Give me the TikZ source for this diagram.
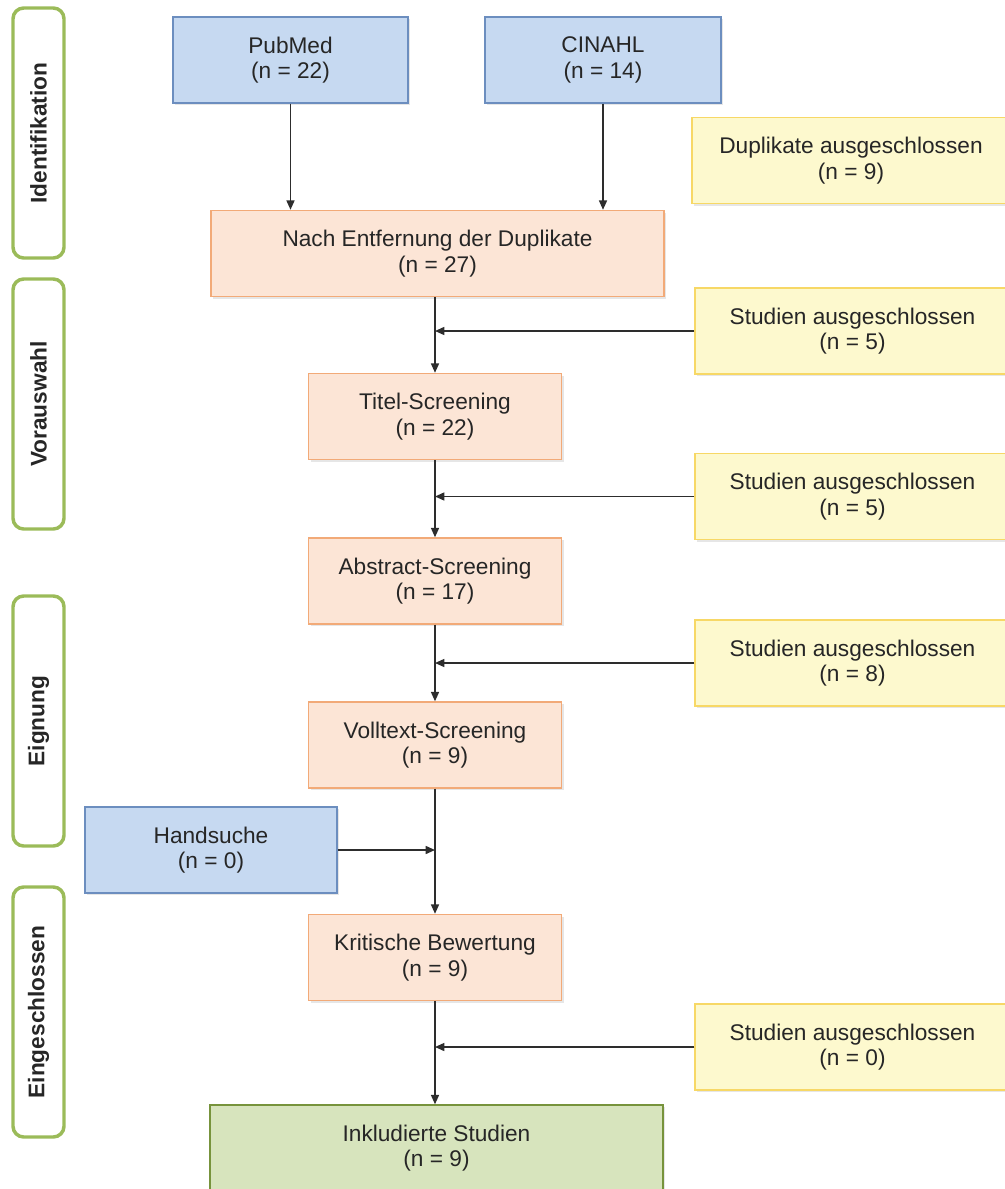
\documentclass[tikz,border=0pt]{standalone}
\usepackage{fontspec}
\setmainfont{Liberation Sans}
\usetikzlibrary{arrows.meta,shadows}
\definecolor{srcFill}{RGB}{198,217,241}
\definecolor{srcDraw}{RGB}{108,142,191}
\definecolor{stepFill}{RGB}{252,229,214}
\definecolor{stepDraw}{RGB}{242,170,120}
\definecolor{exclFill}{RGB}{253,249,206}
\definecolor{exclDraw}{RGB}{247,216,102}
\definecolor{finalFill}{RGB}{215,228,189}
\definecolor{finalDraw}{RGB}{119,147,60}
\definecolor{phaseDraw}{RGB}{155,187,89}
\definecolor{textGrey}{RGB}{38,38,38}
\definecolor{lineGrey}{RGB}{45,45,45}
\tikzset{
  box/.style={draw, line width=1.1pt, align=center, inner sep=0pt, minimum height=64.5pt,
    text=textGrey, font=\fontsize{17}{19}\selectfont,
    drop shadow={shadow xshift=1.5pt, shadow yshift=-1.5pt, opacity=0.2}},
  srcbox/.style={box, fill=srcFill, draw=srcDraw},
  stepbox/.style={box, fill=stepFill, draw=stepDraw},
  exclbox/.style={box, fill=exclFill, draw=exclDraw},
  finalbox/.style={box, fill=finalFill, draw=finalDraw},
  phase/.style={draw=phaseDraw, line width=2.6pt, rounded corners=8pt, rotate=90,
    inner sep=0pt, minimum width=187.5pt, minimum height=38.25pt,
    text=textGrey, font=\fontsize{17}{19}\selectfont\bfseries},
  arr/.style={-{Triangle[length=7pt,width=6pt]}, line width=1.1pt, draw=lineGrey},
}
\begin{document}
\begin{tikzpicture}[x=0.75pt,y=0.75pt,yscale=-1,xscale=1]
\clip (0,0) rectangle (1005,1189);
% phases
\draw (38.5,133) node [phase] (ident) {Identifikation};
\draw (38.5,404) node [phase] (vor) {Vorauswahl};
\draw (38.5,721) node [phase] (eig) {Eignung};
\draw (38.5,1012) node [phase] (ein) {Eingeschlossen};
% sources
\draw (290.5,60) node [srcbox, minimum width=176.25pt] (pubmed) {PubMed\\(n = 22)};
\draw (603,60) node [srcbox, minimum width=177pt] (cinahl) {CINAHL\\(n = 14)};
\draw (211,850) node [srcbox, minimum width=189pt] (hand) {Handsuche\\(n = 0)};
% screening steps
\draw (437.5,253.5) node [stepbox, minimum width=339.75pt] (nach) {Nach Entfernung der Duplikate\\(n = 27)};
\draw (435,416.5) node [stepbox, minimum width=189.75pt] (titel) {Titel-Screening\\(n = 22)};
\draw (435,581) node [stepbox, minimum width=189.75pt] (abstract) {Abstract-Screening\\(n = 17)};
\draw (435,745) node [stepbox, minimum width=189.75pt] (volltext) {Volltext-Screening\\(n = 9)};
\draw (435,957.5) node [stepbox, minimum width=189.75pt] (krit) {Kritische Bewertung\\(n = 9)};
\draw (436.5,1148) node [finalbox, minimum width=339.75pt] (inkl) {Inkludierte Studien\\(n = 9)};
% excluded
\draw (851,160.5) node [exclbox, minimum width=238.5pt] (dup) {Duplikate ausgeschlossen\\(n = 9)};
\draw (852.5,331) node [exclbox, minimum width=236.25pt] (excla) {Studien ausgeschlossen\\(n = 5)};
\draw (852.5,496.5) node [exclbox, minimum width=236.25pt] (exclb) {Studien ausgeschlossen\\(n = 5)};
\draw (852.5,663) node [exclbox, minimum width=236.25pt] (exclc) {Studien ausgeschlossen\\(n = 8)};
\draw (852.5,1047) node [exclbox, minimum width=236.25pt] (excld) {Studien ausgeschlossen\\(n = 0)};
% arrows
\draw [arr] (pubmed.south) -- (pubmed.south |- nach.north);
\draw [arr] (cinahl.south) -- (cinahl.south |- nach.north);
\draw [arr] (titel.north |- nach.south) -- (titel.north);
\draw [arr] (titel.south) -- (abstract.north);
\draw [arr] (abstract.south) -- (volltext.north);
\draw [arr] (volltext.south) -- (krit.north);
\draw [arr] (krit.south) -- (krit.south |- inkl.north);
\draw [arr] (excla.west) -- (excla.west -| titel.north);
\draw [arr] (exclb.west) -- (exclb.west -| titel.south);
\draw [arr] (exclc.west) -- (exclc.west -| abstract.south);
\draw [arr] (excld.west) -- (excld.west -| krit.south);
\draw [arr] (hand.east) -- (hand.east -| volltext.south);
\end{tikzpicture}
\end{document}
